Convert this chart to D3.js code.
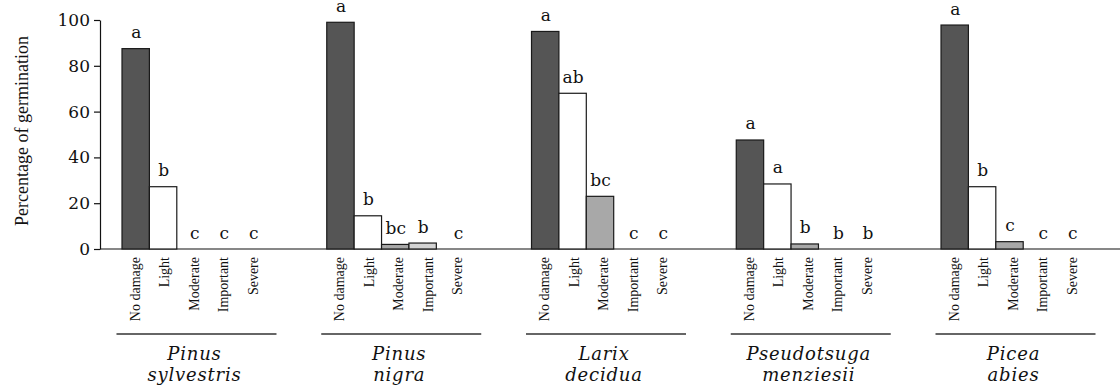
<!DOCTYPE html>
<html>
<head>
<meta charset="utf-8">
<script src="https://cdn.jsdelivr.net/npm/d3@7"></script>
<style>
  body { margin: 0; background: #fff; }
  svg { display: block; }
</style>
</head>
<body>
<svg id="mainsvg" width="1120" height="385"></svg>
<script>
// data
let genus = ["Pinus", "Pinus", "Larix", "Pseudotsuga", "Picea"];
let epithet = ["sylvestris", "nigra", "decidua", "menziesii", "abies"];
let damage = ["No damage", "Light", "Moderate", "Important", "Severe"];

let sylvestrisVals = [87.5, 27.2, 0, 0, 0];
let nigraVals = [99, 14.5, 2.0, 2.6, 0];
let deciduaVals = [95, 68, 23, 0, 0];
let menziesiiVals = [47.6, 28.4, 2.2, 0, 0];
let abiesVals = [97.8, 27.2, 3.2, 0, 0];

let sylvestrisLetters = ["a", "b", "c", "c", "c"];
let nigraLetters = ["a", "b", "bc", "b", "c"];
let deciduaLetters = ["a", "ab", "bc", "c", "c"];
let menziesiiLetters = ["a", "a", "b", "b", "b"];
let abiesLetters = ["a", "b", "c", "c", "c"];

let yTicks = [0, 20, 40, 60, 80, 100];
let fills = ["#555555", "#ffffff", "#a8a8a8", "#d4d4d4", "#ffffff"];

let allVals = [sylvestrisVals, nigraVals, deciduaVals, menziesiiVals, abiesVals];
let allLetters = [sylvestrisLetters, nigraLetters, deciduaLetters, menziesiiLetters, abiesLetters];

let groups = genus.map(function (g, i) {
    return {
        key: g + " " + epithet[i],
        genus: g,
        epithet: epithet[i],
        bars: damage.map(function (d, j) {
            return {damage: d, value: allVals[i][j], letter: allLetters[i][j], fill: fills[j]};
        })
    };
});

let svg = d3.select("#mainsvg");
let serif = "'DejaVu Serif', serif";
let times = "'Liberation Serif', 'Times New Roman', serif";

let y = d3.scaleLinear().domain([0, 100]).range([249, 20]);

let xGroup = d3.scaleBand()
    .domain(groups.map(d => d.key))
    .range([122, 1078])
    .paddingInner(0.331)
    .paddingOuter(0);

let xBar = d3.scaleBand()
    .domain(damage)
    .range([0, xGroup.bandwidth()])
    .padding(0);

// label slots are a bit wider than the bars
let xSlot = d3.scalePoint()
    .domain(damage)
    .range([xBar.bandwidth() / 2 - 1, xBar.bandwidth() / 2 + 117]);

// y axis
let yAxis = svg.append("g")
    .attr("transform", "translate(100,0)")
    .call(d3.axisLeft(y).tickValues(yTicks).tickSize(6).tickSizeOuter(0).tickPadding(4));
yAxis.select(".domain").attr("stroke", "#111").attr("stroke-width", 1.2);
yAxis.selectAll(".tick line").attr("stroke", "#111").attr("stroke-width", 1.2);
yAxis.selectAll(".tick text")
    .attr("font-family", serif)
    .attr("font-size", 17)
    .attr("fill", "#111");

svg.append("text")
    .attr("transform", "translate(28,131) rotate(-90)")
    .attr("text-anchor", "middle")
    .attr("font-family", times)
    .attr("font-size", 18)
    .attr("fill", "#111")
    .text("Percentage of germination");

// baseline
svg.append("line")
    .attr("x1", 100).attr("x2", 1120)
    .attr("y1", y(0)).attr("y2", y(0))
    .attr("stroke", "#111").attr("stroke-width", 1.2);

let gs = svg.selectAll(".grp").data(groups).enter()
    .append("g")
    .attr("class", "grp")
    .attr("transform", d => "translate(" + xGroup(d.key) + ",0)");

gs.selectAll("rect").data(d => d.bars.filter(b => b.value > 0)).enter()
    .append("rect")
    .attr("x", d => xBar(d.damage))
    .attr("y", d => y(d.value))
    .attr("width", xBar.bandwidth())
    .attr("height", d => y(0) - y(d.value))
    .attr("fill", d => d.fill)
    .attr("stroke", "#1a1a1a")
    .attr("stroke-width", 1.2);

// significance letters
gs.selectAll(".letter").data(d => d.bars).enter()
    .append("text")
    .attr("class", "letter")
    .attr("x", d => d.value > 0 ? xBar(d.damage) + xBar.bandwidth() / 2 + 0.5 : xSlot(d.damage) + 1)
    .attr("y", d => y(d.value) - 10.5)
    .attr("text-anchor", "middle")
    .attr("font-family", serif)
    .attr("font-size", 17)
    .attr("fill", "#111")
    .text(d => d.letter);

// rotated category labels
gs.selectAll(".cat").data(d => d.bars).enter()
    .append("text")
    .attr("class", "cat")
    .attr("transform", d => "translate(" + xSlot(d.damage) + ",257) rotate(-90)")
    .attr("dy", "0.35em")
    .attr("text-anchor", "end")
    .attr("font-family", times)
    .attr("font-size", 14)
    .attr("fill", "#111")
    .text(d => d.damage);

// species underline and name
let mid = xBar("Moderate") + xBar.bandwidth() / 2;
gs.append("line")
    .attr("x1", mid + 6 - 80).attr("x2", mid + 6 + 80)
    .attr("y1", 334).attr("y2", 334)
    .attr("stroke", "#333").attr("stroke-width", 1.5);

gs.append("text")
    .attr("x", mid + 4).attr("y", 360)
    .attr("text-anchor", "middle")
    .attr("font-family", serif)
    .attr("font-style", "italic")
    .attr("font-size", 18)
    .attr("letter-spacing", 0.8)
    .attr("fill", "#111")
    .text(d => d.genus);

gs.append("text")
    .attr("x", mid + 4).attr("y", 381)
    .attr("text-anchor", "middle")
    .attr("font-family", serif)
    .attr("font-style", "italic")
    .attr("font-size", 18)
    .attr("letter-spacing", 0.8)
    .attr("fill", "#111")
    .text(d => d.epithet);
</script>
</body>
</html>
